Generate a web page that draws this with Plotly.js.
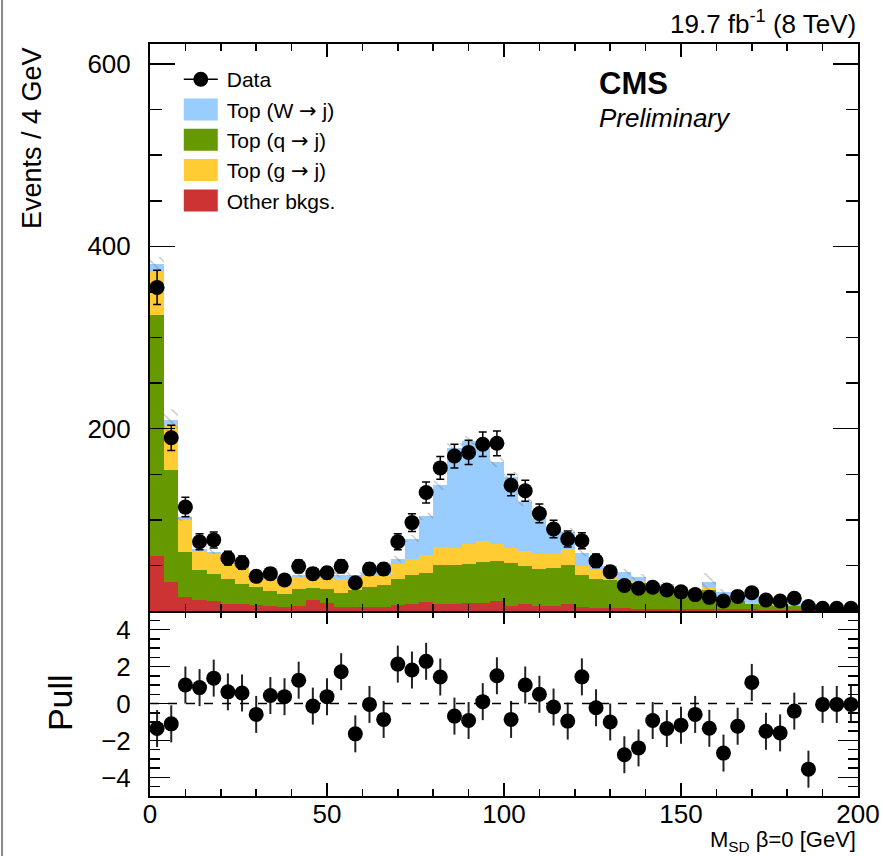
<!DOCTYPE html>
<html>
<head>
<meta charset="utf-8">
<script src="https://cdn.plot.ly/plotly-3.0.1.min.js"></script>
<style>
  html, body { margin: 0; padding: 0; background: #fff; }
  #chart { width: 883px; height: 856px; }
</style>
</head>
<body>
<div id="chart"></div>
<script>
// ---- data (bin centres in GeV, 4 GeV bins) ----
const binCenters = [2,6,10,14,18,22,26,30,34,38,42,46,50,54,58,62,66,70,74,78,82,86,90,94,98,102,106,110,114,118,122,126,130,134,138,142,146,150,154,158,162,166,170,174,178,182,186,190,194,198];

const dataCounts = [355,190,114,76,78,58,53,38,41,34,49,41,42,49,31,46,46,76,97,130,157,170,174,183,184,138,132,107,90,79,77,55,43,28,25,26,23,21,18,15,11,16,20,12,11,14,5,3,3,3];
const dataErr = [18.8,13.8,10.7,8.7,8.8,7.6,7.3,6.2,6.4,5.8,7.0,6.4,6.5,7.0,5.6,6.8,6.8,8.7,9.8,11.4,12.5,13.0,13.2,13.5,13.6,11.7,11.5,10.3,9.5,8.9,8.8,7.4,6.6,5.3,5.0,5.1,4.8,4.6,4.2,3.9,3.3,4.0,4.5,3.5,3.3,3.7,2.2,1.7,1.7,1.7];

const otherBkg = [60,32,15,12,10.5,8,8,6.5,5.5,4,5.5,12,8.5,4,4,4,4,6.5,7.3,10,7.7,7.7,8.4,8.4,10.6,5.8,7.7,5,6,7.7,4,3.3,3,3,2.5,2.5,2.5,2,2,2,2,2,2,1.5,1.5,1.5,1,1,1,1];
const topQ = [265,123,50,33,30.5,27,22,19.5,16.5,15,18.5,13,15.5,16,19,22,24,28.5,31.7,32,42.3,42.3,43.6,45.6,43.9,47.2,41.3,41,41,42.3,35.5,31.3,31.5,29.5,28.5,26.5,24.5,22.5,19,21,12,8.5,6,5.5,4.5,4,2,1,0.5,0.5];
const topG = [47,49,35,21,22,16.5,17,12,13,10,13.5,13,13,15,10,12,11,17,18,19,20,19,21,22.5,19,16,17,16,15,17.5,10,10.4,2.5,2.5,1.5,1,1,1,1,3,1,1,1,0.5,0.5,0.5,0.5,0.5,0.5,0.5];
const topW = [9,5,3,2.5,2,1.5,2,2,2,2,2,2,2,5,7,7,11,5,22.5,43,68,110,114,108.5,89.5,78,54,40,30,19.5,14.5,12,12,8,5,1,1.5,1,1,6,6,7.5,7,6.5,6,4.5,3.5,1.5,1.5,1];
const mcUnc = [7,13,4,3,3,2.5,2.5,2,2,2,2,2,2,2.5,2.5,2.5,3,3,3.5,4,5,5,5,5,5,5,5,4,4,4,3.5,3,3,3,3,2.5,2.5,2.5,2.5,9.5,3,3,2,2,2,2,1.5,1,1,1];

const pullValues = [-1.35,-1.1,1.0,0.86,1.37,0.63,0.57,-0.59,0.43,0.37,1.26,-0.14,0.37,1.72,-1.64,-0.05,-0.86,2.13,1.81,2.28,1.43,-0.68,-0.92,0.1,1.5,-0.86,1.0,0.5,-0.19,-0.95,1.44,-0.23,-1.0,-2.77,-2.4,-0.92,-1.35,-1.17,-0.59,-1.34,-2.68,-1.23,1.14,-1.5,-1.59,-0.41,-3.55,-0.05,-0.05,-0.05];

const xTickVals = [0,50,100,150,200];

// ---- derived for the hatched MC-uncertainty band ----
const mcTotal = binCenters.map((_, i) => otherBkg[i] + topQ[i] + topG[i] + topW[i]);
const hatchBase = mcTotal.map((t, i) => t - mcUnc[i]);
const hatchHeight = mcUnc.map(u => 2 * u);

const FONT = 'Liberation Sans, Arial, Helvetica, sans-serif';
const ARROW = '<span style="font-family:\'DejaVu Sans\'">\u2192</span>';
const colors = { W: '#99ccff', q: '#669900', g: '#ffcc33', other: '#cc3333' };

function barTrace(name, y, color, rank) {
  return {
    type: 'bar', name: name, x: binCenters, y: y, width: 4,
    xaxis: 'x2', yaxis: 'y',
    marker: { color: color, line: { width: 0 } },
    legendrank: rank, hoverinfo: 'skip'
  };
}

const traces = [
  barTrace('Other bkgs.', otherBkg, colors.other, 5),
  barTrace('Top (q ' + ARROW + ' j)', topQ, colors.q, 3),
  barTrace('Top (g ' + ARROW + ' j)', topG, colors.g, 4),
  barTrace('Top (W ' + ARROW + ' j)', topW, colors.W, 2),
  {
    type: 'bar', x: binCenters, y: hatchHeight, base: hatchBase, width: 4,
    xaxis: 'x3', yaxis: 'y', showlegend: false, hoverinfo: 'skip',
    marker: { color: 'rgba(0,0,0,0)', line: { width: 0 },
      pattern: { shape: '\\', fgcolor: '#6a6a6a', bgcolor: 'rgba(0,0,0,0)', size: 9, solidity: 0.12, fillmode: 'overlay' } }
  },
  {
    type: 'scatter', mode: 'markers', name: 'Data', x: binCenters, y: dataCounts,
    xaxis: 'x3', yaxis: 'y', legendrank: 1,
    marker: { color: 'black', size: 15, symbol: 'circle' },
    error_y: { type: 'data', array: dataErr, visible: true, color: 'black', thickness: 1.5, width: 4 }
  },
  {
    type: 'scatter', mode: 'markers', x: binCenters, y: pullValues,
    xaxis: 'x', yaxis: 'y2', showlegend: false,
    marker: { color: 'black', size: 15, symbol: 'circle' },
    error_y: { type: 'constant', value: 1, visible: true, color: '#222', thickness: 2, width: 0 }
  }
];

const axisCommon = {
  showline: true, linecolor: 'black', linewidth: 2, mirror: 'ticks',
  ticks: 'inside', tickcolor: 'black', tickwidth: 1.5,
  showgrid: false, zeroline: false,
  tickfont: { family: FONT, size: 26, color: 'black' }
};

const pullDomainTop = 0.246;

const layout = {
  width: 883, height: 856,
  margin: { l: 150, r: 25, t: 44, b: 60, pad: 0 },
  paper_bgcolor: 'white', plot_bgcolor: 'rgba(0,0,0,0)',
  barmode: 'stack', bargap: 0,
  font: { family: FONT, color: 'black' },
  showlegend: true,
  legend: {
    x: 0.035, y: 0.98, xanchor: 'left', yanchor: 'top',
    bgcolor: 'rgba(0,0,0,0)', borderwidth: 0,
    font: { family: FONT, size: 21, color: 'black' },
    itemwidth: 42, traceorder: 'normal', tracegroupgap: 0
  },
  xaxis: Object.assign({}, axisCommon, {
    domain: [0, 1], anchor: 'y2', range: [0, 200],
    tickmode: 'array', tickvals: xTickVals, ticklen: 13, ticklabelstandoff: -6,
    minor: { tickmode: 'linear', tick0: 0, dtick: 10, ticks: 'inside', ticklen: 7, tickwidth: 1.5, tickcolor: 'black', showgrid: false }
  }),
  xaxis2: Object.assign({}, axisCommon, {
    domain: [0, 1], anchor: 'y', matches: 'x', range: [0, 200],
    showticklabels: false, tickmode: 'array', tickvals: xTickVals, ticklen: 13,
    minor: { tickmode: 'linear', tick0: 0, dtick: 10, ticks: 'inside', ticklen: 7, tickwidth: 1.5, tickcolor: 'black', showgrid: false }
  }),
  xaxis3: { overlaying: 'x2', anchor: 'y', range: [0, 200], visible: false },
  yaxis: Object.assign({}, axisCommon, {
    domain: [pullDomainTop, 1], anchor: 'x2', range: [0, 622],
    tickmode: 'array', tickvals: [200, 400, 600], ticklen: 25, ticklabelstandoff: 12,
    minor: { tickmode: 'linear', tick0: 0, dtick: 50, ticks: 'inside', ticklen: 12, tickwidth: 1.5, tickcolor: 'black', showgrid: false }
  }),
  yaxis2: Object.assign({}, axisCommon, {
    domain: [0, pullDomainTop], anchor: 'x', range: [-5, 5],
    tickmode: 'array', tickvals: [-4, -2, 0, 2, 4], ticklen: 20, ticklabelstandoff: 12,
    minor: { tickmode: 'linear', tick0: 0, dtick: 0.5, ticks: 'inside', ticklen: 10, tickwidth: 1.5, tickcolor: 'black', showgrid: false }
  }),
  shapes: [
    { type: 'line', xref: 'paper', yref: 'y2', x0: 0, x1: 1, y0: 0, y1: 0,
      line: { color: 'black', width: 1.5, dash: 'dash' } },
    { type: 'line', xref: 'paper', yref: 'paper', x0: -0.2090, x1: -0.2090, y0: -0.08, y1: 1.06,
      line: { color: '#8a8a8a', width: 2 } }
  ],
  annotations: [
    { xref: 'paper', yref: 'paper', x: 1, y: 1.029, xanchor: 'right', yanchor: 'middle', showarrow: false,
      text: '19.7 fb<sup>-1</sup> (8 TeV)', font: { family: FONT, size: 26, color: 'black' } },
    { xref: 'paper', yref: 'paper', x: 0.631, y: 0.948, xanchor: 'left', yanchor: 'middle', showarrow: false,
      text: '<b>CMS</b>', font: { family: FONT, size: 31, color: 'black' } },
    { xref: 'paper', yref: 'paper', x: 0.631, y: 0.9016, xanchor: 'left', yanchor: 'middle', showarrow: false,
      text: '<i>Preliminary</i>', font: { family: FONT, size: 26, color: 'black' } },
    { xref: 'paper', yref: 'paper', x: -0.1667, y: 0.875, xanchor: 'center', yanchor: 'middle', showarrow: false,
      textangle: -90, text: 'Events / 4 GeV', font: { family: FONT, size: 27, color: 'black' } },
    { xref: 'paper', yref: 'paper', x: -0.127, y: 0.1237, xanchor: 'center', yanchor: 'middle', showarrow: false,
      textangle: -90, text: 'Pull', font: { family: FONT, size: 34, color: 'black' } },
    { xref: 'paper', yref: 'paper', x: 1, y: -0.0600, xanchor: 'right', yanchor: 'middle', showarrow: false,
      text: 'M<sub>SD</sub> \u03b2=0 [GeV]', font: { family: FONT, size: 22, color: 'black' } }
  ]
};

Plotly.newPlot('chart', traces, layout, { displayModeBar: false, staticPlot: true }).then(function (gd) {
  const ns = 'http://www.w3.org/2000/svg';
  gd.querySelectorAll('.legend .traces').forEach(function (g) {
    const txt = g.querySelector('text.legendtext');
    const name = txt ? txt.textContent : '';
    if (name === 'Data') {
      const mk = g.querySelector('.legendpoints path.scatterpts') || g.querySelector('.legendpoints path');
      if (mk) {
        const ln = document.createElementNS(ns, 'path');
        ln.setAttribute('d', 'M-17,0H17');
        const tr = mk.getAttribute('transform');
        if (tr) ln.setAttribute('transform', tr);
        ln.setAttribute('style', 'stroke:black;stroke-width:1.5px;fill:none');
        mk.parentNode.insertBefore(ln, mk);
      }
    } else {
      g.querySelectorAll('.legendpoints path').forEach(function (p) {
        const d = p.getAttribute('d') || '';
        if (/^M6,6H-6V-6H6Z/.test(d.replace(/\s/g, ''))) {
          p.setAttribute('d', 'M17,11H-17V-11H17Z');
        }
      });
    }
  });
});
</script>
</body>
</html>
